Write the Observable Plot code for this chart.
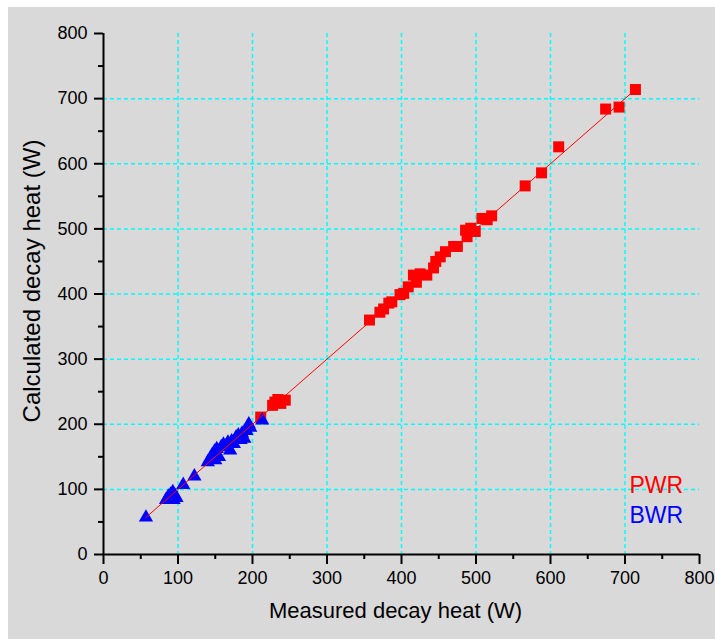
<!DOCTYPE html>
<html>
<head>
<meta charset="utf-8">
<script src="https://cdn.jsdelivr.net/npm/d3@7"></script>
<script src="https://cdn.jsdelivr.net/npm/@observablehq/plot@0.6"></script>
<style>
  html, body { margin: 0; padding: 0; background: #ffffff; }
  #wrap { position: relative; width: 715px; height: 639px; overflow: hidden; }
  #bg { position: absolute; left: 8px; top: 7px; width: 707px; height: 632px; background: #d9d9d9; }
  #chart { position: absolute; left: 0; top: 0; }
</style>
</head>
<body>
<div id="wrap"><div id="bg"></div><div id="chart"></div></div>
<script>
// PWR (red squares)
const pwrX = [211, 227, 230, 234, 238, 244, 357, 371, 376, 383, 387, 398, 403, 409, 416, 420, 425, 434, 443, 446, 452, 459, 470, 475, 486, 488, 493, 499, 508, 515, 521, 566, 588, 611, 674, 692, 714];
const pwrY = [211, 229, 234, 238, 232, 237, 360, 372, 377, 386, 388, 399, 401, 411, 429, 418, 431, 429, 440, 450, 457, 465, 473, 473, 498, 488, 501, 496, 516, 514, 520, 566, 586, 626, 684, 687, 714];
// BWR (blue triangles)
const bwrX = [57, 84, 87, 90, 93, 96, 98, 94, 107, 122, 140, 143, 146, 149, 152, 150, 155, 158, 161, 164, 167, 170, 172, 175, 178, 181, 184, 186, 189, 192, 195, 197, 213];
const bwrY = [57, 84, 89, 92, 96, 90, 87, 84, 107, 120, 142, 147, 153, 158, 162, 145, 150, 165, 169, 166, 172, 160, 174, 170, 180, 183, 176, 186, 178, 190, 200, 195, 206];
// fit line (y = x)
const fitX = [57, 714];
const fitY = [57, 714];
// ticks
const majorTicks = [0, 100, 200, 300, 400, 500, 600, 700, 800];
const minorTicks = [50, 150, 250, 350, 450, 550, 650, 750];
const gridTicks = [100, 200, 300, 400, 500, 600, 700];
const xLabel = "Measured decay heat (W)";
const yLabel = "Calculated decay heat (W)";
const legendNames = ["PWR", "BWR"];
const legendColors = ["#ff0000", "#0000ff"];

const pwr = pwrX.map((x, i) => ({x, y: pwrY[i]}));
const bwr = bwrX.map((x, i) => ({x, y: bwrY[i]}));
const fit = fitX.map((x, i) => ({x, y: fitY[i]}));

const font = "'Liberation Sans', Arial, sans-serif";

const chart = Plot.plot({
  width: 715,
  height: 639,
  marginLeft: 103,
  marginRight: 16,
  marginTop: 33,
  marginBottom: 85,
  style: {background: "transparent", fontFamily: font, fontSize: "18px", color: "black"},
  x: {domain: [0, 800]},
  y: {domain: [0, 800]},
  marks: [
    Plot.gridX(gridTicks, {stroke: "#00ffff", strokeOpacity: 1, strokeWidth: 1.5, strokeDasharray: "4,3"}),
    Plot.gridY(gridTicks, {stroke: "#00ffff", strokeOpacity: 1, strokeWidth: 1.5, strokeDasharray: "4,3"}),
    Plot.dot(pwr, {x: "x", y: "y", symbol: "square", r: 6.2, fill: "#ff0000", stroke: "none"}),
    Plot.dot(bwr, {x: "x", y: "y", symbol: "triangle", r: 5.3, fill: "#0000ff", stroke: "none"}),
    Plot.line(fit, {x: "x", y: "y", stroke: "#ff0000", strokeWidth: 1}),
    Plot.ruleX([0], {stroke: "black", strokeWidth: 2}),
    Plot.ruleY([0], {stroke: "black", strokeWidth: 2}),
    Plot.axisX(majorTicks, {tickSize: 10, tickPadding: 7, strokeWidth: 2, label: null, fontSize: 18, fill: "black"}),
    Plot.axisX(minorTicks, {tickSize: 5, text: null, strokeWidth: 2, label: null}),
    Plot.axisY(majorTicks, {tickSize: 9, tickPadding: 7, strokeWidth: 2, label: null, fontSize: 18, fill: "black"}),
    Plot.axisY(minorTicks, {tickSize: 5, text: null, strokeWidth: 2, label: null}),
    Plot.text([xLabel], {text: d => d, frameAnchor: "bottom", dx: -6, dy: 63, fontSize: 22, fill: "black"}),
    Plot.text([yLabel], {text: d => d, frameAnchor: "left", textAnchor: "middle", rotate: -90, dx: -71, dy: -13, fontSize: 24, fill: "black"}),
    Plot.text([legendNames[0]], {text: d => d, frameAnchor: "bottom-right", textAnchor: "start", dx: -70, dy: -62, fontSize: 23, fill: legendColors[0]}),
    Plot.text([legendNames[1]], {text: d => d, frameAnchor: "bottom-right", textAnchor: "start", dx: -70, dy: -32, fontSize: 23, fill: legendColors[1]})
  ]
});
document.getElementById("chart").appendChild(chart);
</script>
</body>
</html>
